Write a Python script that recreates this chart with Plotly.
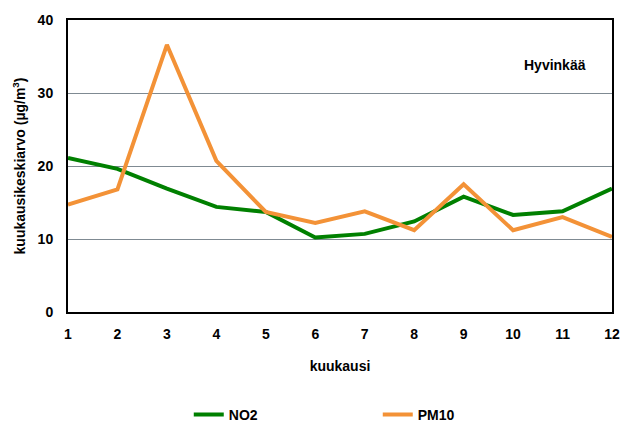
import plotly.graph_objects as go

months = [1, 2, 3, 4, 5, 6, 7, 8, 9, 10, 11, 12]
no2 = [21.1, 19.6, 16.9, 14.4, 13.7, 10.2, 10.7, 12.4, 15.8, 13.3, 13.8, 16.9]
pm10 = [14.7, 16.8, 36.6, 20.7, 13.7, 12.2, 13.8, 11.2, 17.5, 11.2, 13.0, 10.3]
y_ticks = [0, 10, 20, 30, 40]

font = dict(family="Liberation Sans, Arial, sans-serif", size=14, color="black")

fig = go.Figure()
fig.add_trace(go.Scatter(x=months, y=no2, mode="lines", name="<b>NO2</b>",
                         line=dict(color="#008000", width=4)))
fig.add_trace(go.Scatter(x=months, y=pm10, mode="lines", name="<b>PM10</b>",
                         line=dict(color="#F39237", width=4)))

fig.update_layout(
    width=622, height=423,
    margin=dict(l=68, r=10, t=20, b=111, autoexpand=False),
    paper_bgcolor="white", plot_bgcolor="white",
    font=font,
    showlegend=True,
    legend=dict(orientation="h", x=0.222, xanchor="left", y=-0.298, yanchor="top",
                entrywidth=144, entrywidthmode="pixels",
                font=dict(family=font["family"], size=14, color="black")),
    xaxis=dict(range=[1, 12], tickvals=months, ticktext=[f"<b>{m}</b>" for m in months],
               showgrid=False, zeroline=False, showline=True, linecolor="black", linewidth=2,
               mirror=True, ticks="", tickfont=dict(size=14), ticklabelstandoff=8,
               title=dict(text="<b>kuukausi</b>", font=dict(size=14), standoff=20)),
    yaxis=dict(range=[0, 40], tickvals=y_ticks, ticktext=[f"<b>{v}</b>" for v in y_ticks],
               showgrid=True, gridcolor="#7f8a92", gridwidth=1, zeroline=False,
               showline=True, linecolor="black", linewidth=2, mirror=True, ticks="",
               tickfont=dict(size=14), ticklabelstandoff=10,
               title=dict(text="<b>kuukausikeskiarvo (µg/m<sup>3</sup>)</b>", font=dict(size=14), standoff=9)),
    annotations=[dict(text="<b>Hyvinkää</b>", xref="paper", yref="paper", x=0.955, y=0.845,
                      xanchor="right", yanchor="middle", showarrow=False, font=dict(size=14))],
)

fig.write_html("out.html", config={"displayModeBar": False},
               post_script="document.body.style.margin='0';document.body.style.overflow='hidden';")
